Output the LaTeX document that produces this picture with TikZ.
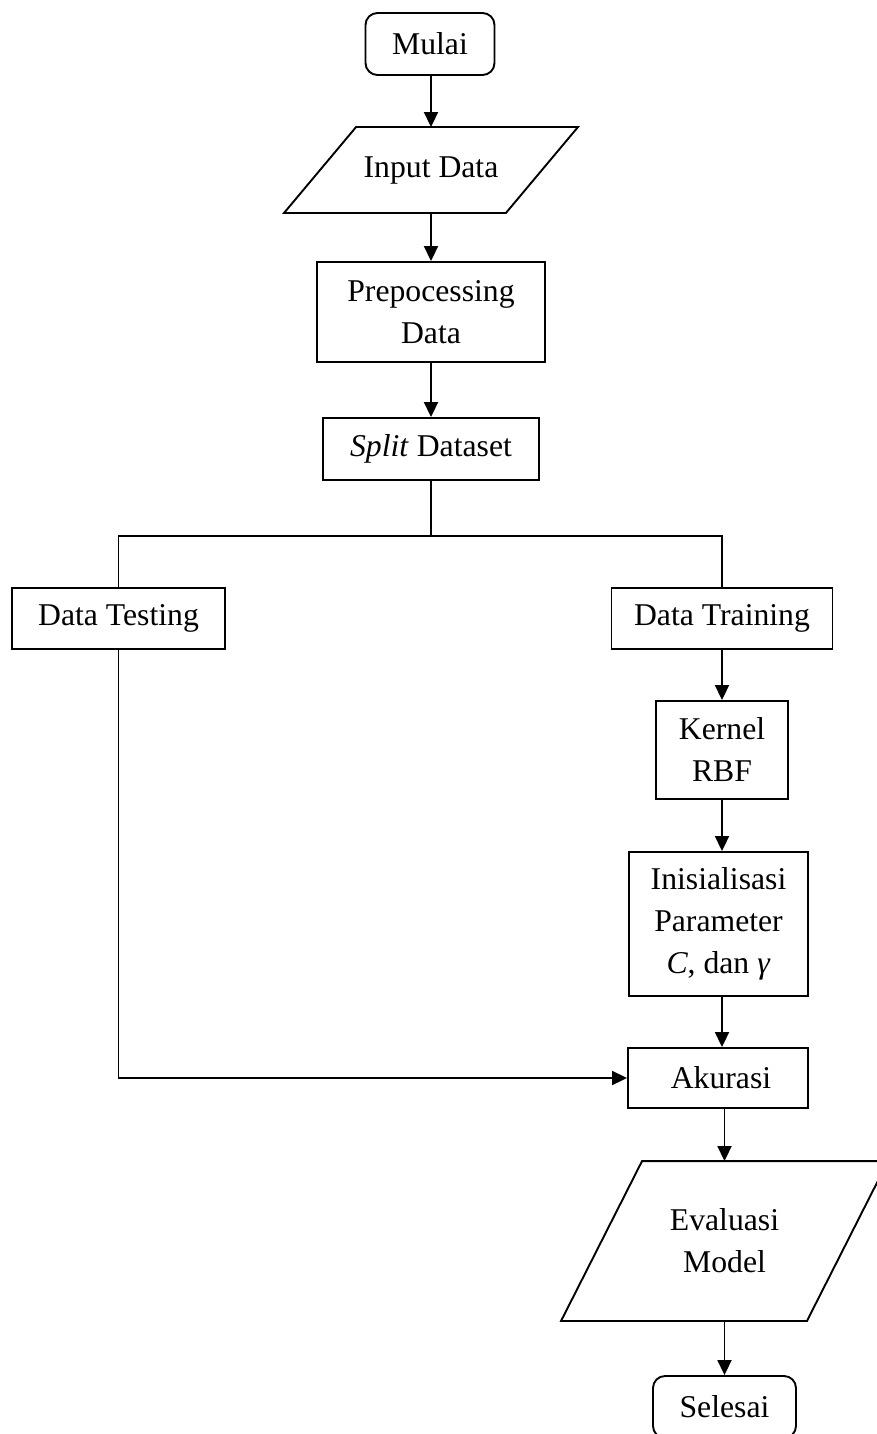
\documentclass[tikz,border=0pt]{standalone}
\usepackage{fontspec}
\setmainfont{Liberation Serif}
\usetikzlibrary{arrows.meta}
\begin{document}
\begin{tikzpicture}[x=1pt,y=-1pt,
  line width=1.9pt,
  every node/.style={inner sep=0pt, align=center, font=\fontsize{31.7}{42}\selectfont},
  box/.style={draw, rectangle},
  term/.style={draw, rectangle, rounded corners=12pt},
  io/.style={rectangle},
  arr/.style={-{Triangle[length=15pt,width=14pt]}}
]
\useasboundingbox (0,0) rectangle (877,1434);

\node[term, minimum width=129pt, minimum height=62pt] (mulai) at (430,44) {Mulai};
\node[io, minimum width=220pt, minimum height=84pt] (input) at (431,170) {\raisebox{-4pt}{Input Data}};
\draw ([xshift=36pt]input.north west) -- ([xshift=36pt]input.north east)
  -- ([xshift=-36pt]input.south east) -- ([xshift=-36pt]input.south west) -- cycle;
\node[box, minimum width=228pt, minimum height=100pt] (prep) at (431,312) {Prepocessing\\Data};
\node[box, minimum width=216pt, minimum height=62pt] (split) at (431,449) {\textit{Split} Dataset};
\coordinate (br) at (431,536);
\node[box, minimum width=213pt, minimum height=61pt] (dtest) at (118.5,618.5) {Data Testing};
\node[box, minimum width=221pt, minimum height=61pt] (dtrain) at (722,618.5) {Data Training};
\node[box, minimum width=132pt, minimum height=98pt] (kernel) at (722,750) {Kernel\\RBF};
\node[box, minimum width=179pt, minimum height=144pt] (init) at (718.5,924) {Inisialisasi\\Parameter\\\textit{C}, dan \textit{γ}};
\node[box, minimum width=180pt, minimum height=60pt] (akurasi) at (718,1078) {\hspace*{6pt}Akurasi};
\node[io, minimum width=244pt, minimum height=158pt] (eval) at (724.5,1241) {Evaluasi\\Model};
\draw ([xshift=40.5pt]eval.north west) -- ([xshift=40.5pt]eval.north east)
  -- ([xshift=-40.5pt]eval.south east) -- ([xshift=-40.5pt]eval.south west) -- cycle;
\node[term, minimum width=143pt, minimum height=62pt] (selesai) at (724.5,1407) {Selesai};

\draw[arr] (mulai.south -| input.north) -- (input.north);
\draw[arr] (input.south) -- (prep.north);
\draw[arr] (prep.south) -- (split.north);
\draw (split.south) -- (br);
\draw (br) -| (dtest.north);
\draw (br) -| (dtrain.north);
\draw[arr] (dtrain.south) -- (kernel.north);
\draw[arr] (kernel.south) -- (kernel.south |- init.north);
\draw[arr] (init.south -| kernel.south) -- (kernel.south |- akurasi.north);
\draw[arr] (dtest.south) |- (akurasi.west);
\draw[arr] (akurasi.south -| eval.north) -- (eval.north);
\draw[arr] (eval.south) -- (selesai.north);
\end{tikzpicture}
\end{document}
